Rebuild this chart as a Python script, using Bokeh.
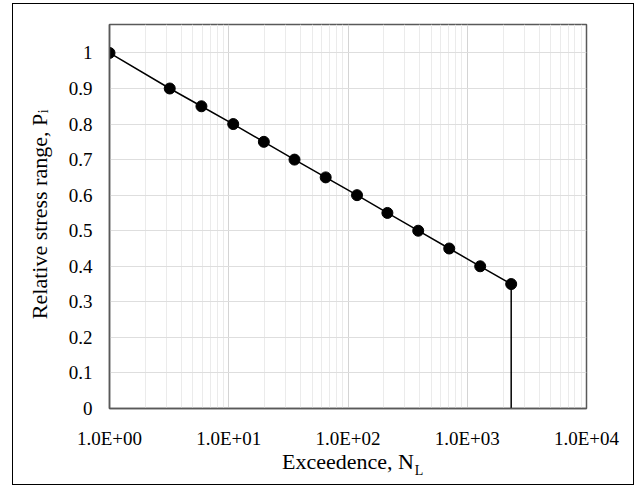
from bokeh.plotting import figure
from bokeh.models import FixedTicker, BasicTickFormatter, Range1d, LogAxis, LinearAxis
from bokeh.embed import file_html
from bokeh.resources import INLINE

# Data
exceedence = [1.0, 3.2, 5.9, 10.9, 19.7, 35.6, 65.0, 119.0, 214.0, 388.0, 706.0, 1284.0, 2336.0]
stress_range = [1.0, 0.9, 0.85, 0.8, 0.75, 0.7, 0.65, 0.6, 0.55, 0.5, 0.45, 0.4, 0.35]
cutoff_x = [2336.0, 2336.0]
cutoff_y = [0.35, 0.0]
y_ticks = [0, 0.1, 0.2, 0.3, 0.4, 0.5, 0.6, 0.7, 0.8, 0.9, 1.0]
y_tick_labels = ["0", "0.1", "0.2", "0.3", "0.4", "0.5", "0.6", "0.7", "0.8", "0.9", "1"]
x_ticks = [1, 10, 100, 1000, 10000]
x_tick_labels = ["1.0E+00", "1.0E+01", "1.0E+02", "1.0E+03", "1.0E+04"]
x_minor_ticks = [m * d for d in [1, 10, 100, 1000] for m in range(2, 10)]

FONT = "Times"
TICK_FONT = "serif"

p = figure(x_axis_type="log", x_range=Range1d(1, 10000), y_range=Range1d(0, 1.08),
           frame_width=477, frame_height=384,
           min_border_left=96, min_border_right=47, min_border_top=20, min_border_bottom=76,
           output_backend="svg", toolbar_location=None,
           background_fill_color="white", border_fill_color="white")
p.styles = {"margin-left": "12px", "margin-top": "3px", "border": "1px solid black"}

p.outline_line_color = "#595959"
p.outline_line_width = 1.5

# main axes
xa = p.xaxis[0]
xa.ticker = FixedTicker(ticks=x_ticks, minor_ticks=x_minor_ticks)
xa.formatter = BasicTickFormatter()
xa.major_label_overrides = dict(zip(x_ticks, x_tick_labels))
ya = p.yaxis[0]
ya.ticker = FixedTicker(ticks=y_ticks)
ya.major_label_overrides = dict(zip(y_ticks, y_tick_labels))
for ax in (xa, ya):
    ax.axis_line_color = "#595959"
    ax.axis_line_width = 1.5
    ax.major_tick_line_color = None
    ax.minor_tick_line_color = None
    ax.major_label_text_font = TICK_FONT
    ax.major_label_text_font_size = "19px"
    ax.major_label_text_color = "black"
    ax.axis_label_text_font = FONT
    ax.axis_label_text_font_size = "22px"
    ax.axis_label_text_font_style = "normal"
    ax.axis_label_text_color = "black"
xa.major_label_standoff = 13
ya.major_label_standoff = 11
xa.axis_label = "Exceedence, N"
ya.axis_label = "Relative stress range, P"
xa.axis_label_standoff = -3
ya.axis_label_standoff = 14

# subscripts drawn as single tick labels of bare extra axes
sub_x = LogAxis(ticker=FixedTicker(ticks=[395]), formatter=BasicTickFormatter(),
                major_label_overrides={395: "L"},
                axis_line_color=None, major_tick_line_color=None, minor_tick_line_color=None,
                major_label_text_font=FONT, major_label_text_font_size="14px",
                major_label_text_color="black", major_label_standoff=-20)
p.add_layout(sub_x, "below")
sub_y = LinearAxis(ticker=FixedTicker(ticks=[0.836]),
                   major_label_overrides={0.836: "i"},
                   axis_line_color=None, major_tick_line_color=None, minor_tick_line_color=None,
                   major_label_text_font=FONT, major_label_text_font_size="14px",
                   major_label_text_color="black", major_label_standoff=-34,
                   major_label_orientation="parallel")
p.add_layout(sub_y, "left")

# grids
p.xgrid.grid_line_color = "#d4d4d4"
p.xgrid.minor_grid_line_color = "#ebebeb"
p.ygrid.grid_line_color = "#dedede"

# series
p.line(exceedence, stress_range, line_color="black", line_width=1.5)
p.line(cutoff_x, cutoff_y, line_color="black", line_width=1.5)
p.scatter(exceedence, stress_range, size=11, fill_color="black", line_color="black")

open("out.html", "w").write(file_html(p, INLINE))
